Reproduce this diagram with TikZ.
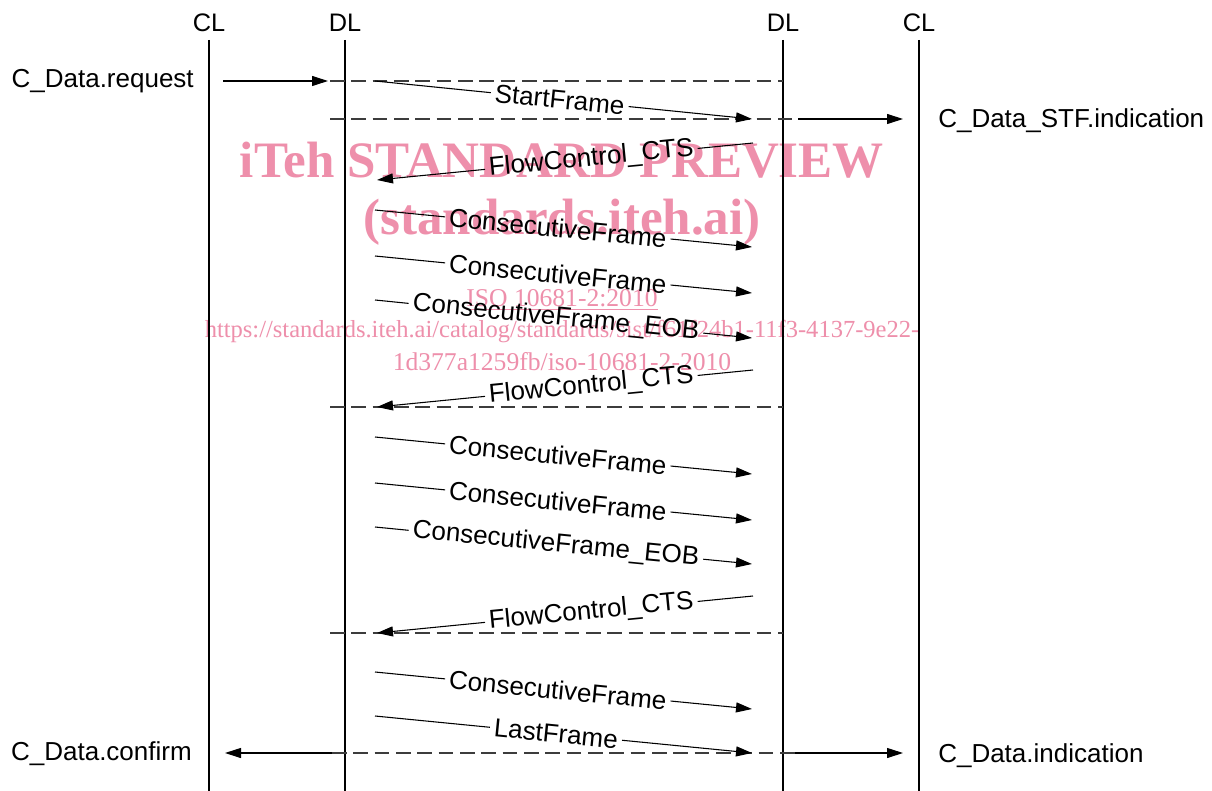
\documentclass[tikz,border=0pt]{standalone}
\usepackage{fontspec}
\setmainfont{Liberation Sans}
\newfontfamily\wmfont{Liberation Serif}
\usetikzlibrary{arrows.meta}
\definecolor{wmpink}{RGB}{238,143,171}
\definecolor{syncgray}{RGB}{60,60,60}
\tikzset{
  lifeline/.style={line width=1pt, black},
  hdr/.style={font=\fontsize{19}{22}\selectfont, inner sep=0pt, anchor=base},
  side/.style={font=\fontsize{19.5}{22}\selectfont, inner sep=0pt},
  msg/.style={line width=0.8pt, black},
  tipped/.style={-{Triangle[length=12pt,width=7.5pt]}},
  sync/.style={syncgray, line width=1pt, dash pattern=on 11pt off 5pt},
  lbl/.style={font=\fontsize{19.5}{22}\selectfont, sloped, inner xsep=3pt, inner ysep=0pt},
  wmbig/.style={text=wmpink, font=\wmfont\bfseries\fontsize{38.3}{40}\selectfont, inner sep=0pt},
  wmsmall/.style={text=wmpink, font=\wmfont\fontsize{19.2}{21}\selectfont, inner sep=0pt},
  wmurl/.style={text=wmpink, font=\wmfont\fontsize{18.4}{21}\selectfont, inner sep=0pt}
}
% left-to-right message: name, y start, y end, label, pos
\newcommand\msgLR[5]{%
  \coordinate (#1s) at (375,#2);
  \coordinate (#1e) at (752,#3);
  \path (#1s) -- (#1e) node[lbl, pos=#5] (#1l) {#4};
  \draw[msg] (#1s) -- (#1l.west);
  \draw[msg,tipped] (#1l.east) -- (#1e);
}
% right-to-left message: name, y start (right), y end (left), label, pos from left
\newcommand\msgRL[5]{%
  \coordinate (#1s) at (753,#2);
  \coordinate (#1e) at (377,#3);
  \path (#1e) -- (#1s) node[lbl, pos=#5] (#1l) {#4};
  \draw[msg] (#1s) -- (#1l.east);
  \draw[msg,tipped] (#1l.west) -- (#1e);
}
\begin{document}
\begin{tikzpicture}[x=0.75pt, y=-0.75pt]
\useasboundingbox (0,0) rectangle (1212,791);
\fill[white] (0,0) rectangle (1212,791);

% watermark
\node[wmbig] (wm1) at (562,160) {iTeh STANDARD PREVIEW};
\node[wmbig] (wm2) at (562,222) {(standards.iteh.ai)};
\node[wmsmall] (wm3) at (562,300) {\underline{ISO 10681-2:2010}};
\node[wmurl] (wm4) at (562,332) {https://standards.iteh.ai/catalog/standards/sist/f61f24b1-11f3-4137-9e22-};
\node[wmsmall] (wm5) at (562,362) {1d377a1259fb/iso-10681-2-2010};

% headers and lifelines
\node[hdr] (h1) at (209,32) {CL};
\node[hdr] (h2) at (345,32) {DL};
\node[hdr] (h3) at (783,32) {DL};
\node[hdr] (h4) at (919,32) {CL};
\foreach \n/\x in {1/209,2/345,3/783,4/919}{
  \coordinate (l\n t) at (\x,40);
  \coordinate (l\n b) at (\x,791);
  \draw[lifeline] (l\n t) -- (l\n b);
}

% synchronisation (dashed) lines
\coordinate (y1a) at (330,81);  \coordinate (y1b) at (783,81);
\coordinate (y2a) at (330,119); \coordinate (y2b) at (792,119);
\coordinate (y3a) at (330,407); \coordinate (y3b) at (783,407);
\coordinate (y4a) at (330,633); \coordinate (y4b) at (783,633);
\coordinate (y5a) at (332,753); \coordinate (y5b) at (795,753);
\foreach \k in {1,...,5}{ \draw[sync] (y\k a) -- (y\k b); }

% service primitives
\node[side, anchor=base east] (req) at (194,88) {C\_Data.request};
\node[side, anchor=base west] (stf) at (938,128) {C\_Data\_STF.indication};
\node[side, anchor=base east] (conf) at (192,760) {C\_Data.confirm};
\node[side, anchor=base west] (ind) at (938,762) {C\_Data.indication};

\coordinate (reqs) at (223,81);  \coordinate (reqe) at (328,81);
\coordinate (stfs) at (798,119); \coordinate (stfe) at (903,119);
\coordinate (confs) at (332,753); \coordinate (confe) at (225,753);
\coordinate (inds) at (795,753); \coordinate (inde) at (903,753);
\draw[msg,tipped] (reqs) -- (reqe);
\draw[msg,tipped] (stfs) -- (stfe);
\draw[msg,tipped] (confs) -- (confe);
\draw[msg,tipped] (inds) -- (inde);

% frames
\msgLR{m1}{81}{119}{StartFrame}{0.49}
\msgRL{m2}{143}{180}{FlowControl\_CTS}{0.57}
\msgLR{m3}{210}{247}{ConsecutiveFrame}{0.485}
\msgLR{m4}{256}{293}{ConsecutiveFrame}{0.485}
\msgLR{m5}{300}{338}{ConsecutiveFrame\_EOB}{0.48}
\msgRL{m6}{370}{407}{FlowControl\_CTS}{0.57}
\msgLR{m7}{437}{474}{ConsecutiveFrame}{0.485}
\msgLR{m8}{483}{520}{ConsecutiveFrame}{0.485}
\msgLR{m9}{527}{564}{ConsecutiveFrame\_EOB}{0.48}
\msgRL{m10}{596}{633}{FlowControl\_CTS}{0.57}
\msgLR{m11}{672}{709}{ConsecutiveFrame}{0.485}
\msgLR{m12}{716}{753}{LastFrame}{0.48}
\end{tikzpicture}
\end{document}
